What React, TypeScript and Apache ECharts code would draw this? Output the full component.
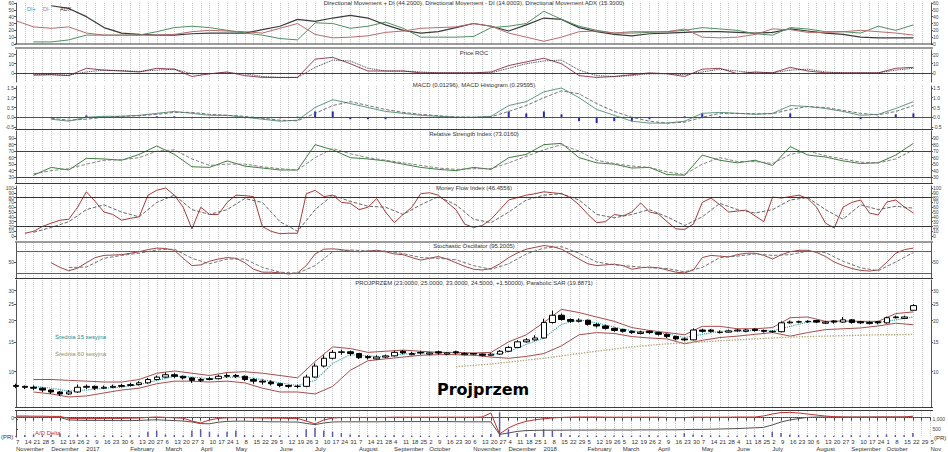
import React, { useEffect, useRef } from "react";
import * as echarts from "echarts";

// ---------- axis / calendar ----------
const START_UTC = Date.UTC(2016, 10, 7); // week 0 = Monday 7 Nov 2016
const DAY_MS = 86400000;
const WEEK_MAX = 104;
const MONTHS = ["January", "February", "March", "April", "May", "June", "July", "August", "September", "October", "November", "December"];

const PANEL_TITLES = [
  "Directional Movement + DI (44.2000), Directional Movement - DI (14.0003), Directional Movement ADX (15.3000)",
  "Price ROC",
  "MACD (0.01296), MACD Histogram (0.29595)",
  "Relative Strength Index (73.0160)",
  "Money Flow Index (46.4556)",
  "Stochastic Oscillator (95.2005)",
  "PROJPRZEM (23.0000, 25.0000, 23.0000, 24.5000, +1.50000), Parabolic SAR (19.8871)",
];
const TITLE_TOPS = [0, 49.5, 82, 131, 185, 243, 279.5];

const PRICE_TICKS = [10, 15, 20, 25, 30];
const RSI_TICKS = [30, 40, 50, 60, 70, 80, 90];
const MFI_TICKS = [0, 10, 20, 30, 40, 50, 60, 70, 80, 90, 100];
const ROC_TICKS = [0, 10, 20];
const MACD_TICKS = [-0.5, 0, 0.5, 1, 1.5];
const STOCH_TICKS = [50];
const VOL_TICKS = [500, 1000];

// ---------- weekly price data (index = week) ----------
const OPEN = [8.3,8.2,8.1,8.0,7.8,7.6,7.4,7.6,8.1,8.2, 8.0,8.1,8.2,8.3,8.4,8.6,9.0,9.3,9.6,9.4, 9.2,8.9,9.0,9.1,9.4,9.5,9.4,9.0,8.8,8.7, 8.5,8.3,8.2,8.2,9.3,10.8,12.0,13.0,13.1,12.8, 12.3,11.9,12.2,12.4,13.2,12.6,13.0,12.7,13.1,12.7, 13.1,12.6,12.8,12.7,12.5,12.7,13.2,13.9,15.0,15.4, 15.8,19.5,21.5,20.3,19.8,20.1,19.0,18.6,18.0,17.7, 17.3,16.8,17.3,17.0,16.6,16.1,15.6,15.4,17.6,17.6, 17.0,17.1,17.4,17.3,17.8,17.5,17.3,17.2,19.4,19.6, 19.7,20.0,19.3,19.9,19.6,20.2,19.7,19.2,19.7,19.4, 20.8,20.6,23.0];
const CLOSE = [8.2,8.1,8.0,7.8,7.6,7.4,7.6,8.1,8.2,8.0, 8.1,8.2,8.3,8.4,8.6,9.0,9.3,9.6,9.4,9.2, 8.9,9.0,9.1,9.4,9.5,9.4,9.0,8.8,8.7,8.5, 8.3,8.2,8.2,9.3,10.8,12.0,13.0,13.1,12.8,12.1, 12.1,12.2,12.4,13.0,12.9,12.8,12.9,12.9,12.9,12.9, 12.9,12.8,12.7,12.5,12.7,13.2,13.9,15.0,15.4,15.8, 19.5,21.5,20.3,19.8,20.1,19.0,18.6,18.0,17.5,17.3, 17.0,17.1,17.0,16.6,16.1,15.6,15.4,17.6,17.3,17.3, 17.1,17.4,17.6,17.6,17.5,17.3,17.2,19.4,19.6,19.7, 19.8,19.6,19.6,19.6,20.2,19.5,19.4,19.5,19.4,20.8, 21.0,21.0,24.5];
const LOW = [8.0,7.9,7.8,7.6,7.4,7.2,7.3,7.5,7.9,7.8, 7.9,8.0,8.1,8.2,8.3,8.5,8.9,9.2,9.2,9.0, 8.6,8.7,8.9,9.0,9.2,9.2,8.8,8.5,8.4,8.3, 8.1,8.0,8.0,8.1,9.2,10.6,11.8,12.6,12.4,11.9, 11.8,11.8,12.0,12.3,12.7,12.5,12.6,12.5,12.6,12.5, 12.6,12.5,12.5,12.3,12.4,12.6,13.1,13.8,14.8,15.2, 15.7,19.2,20.0,19.4,19.5,18.7,18.2,17.7,17.2,17.0, 16.7,16.6,16.7,16.3,15.8,15.3,15.1,15.3,17.0,17.0, 16.8,17.0,17.2,17.1,17.2,17.0,16.9,17.1,19.2,19.3, 19.4,19.3,19.1,19.2,19.4,19.2,19.1,19.0,19.0,19.2, 20.6,20.4,23.0];
const HIGH = [8.5,8.3,8.3,8.1,7.9,7.7,7.8,8.4,8.4,8.3, 8.3,8.4,8.5,8.6,8.8,9.2,9.5,9.9,9.8,9.5, 9.3,9.2,9.3,9.6,9.8,9.7,9.5,9.2,9.0,8.9, 8.6,8.4,8.4,9.6,11.2,12.5,13.4,13.5,13.3,12.9, 12.5,12.5,12.6,13.3,13.4,13.1,13.2,13.0,13.3,13.0, 13.3,13.0,12.9,12.8,12.9,13.4,14.2,15.3,15.8,16.4, 20.5,22.9,22.0,20.6,20.6,20.3,19.3,18.9,18.2,17.9, 17.5,17.4,17.5,17.1,16.8,16.3,15.9,18.0,17.9,17.8, 17.5,17.7,17.9,17.9,18.0,17.7,17.5,19.8,20.0,20.0, 20.1,20.2,19.9,20.1,21.0,20.4,19.9,19.8,19.9,21.1, 21.4,21.4,25.0];

// ---------- weekly indicator data ----------
const MFI = [null,6,10,20,27,33,35,60,92,72, 50,45,33,37,40,85,95,100,85,60, 15,60,45,45,70,85,84,82,20,10, 5,6,6,88,95,82,85,70,68,55, 60,78,50,28,45,60,88,90,85,70, 55,25,18,22,35,55,75,80,85,88, 92,90,88,80,65,45,28,30,45,42, 50,69,50,46,30,15,14,25,70,79, 65,50,52,54,42,30,81,79,82,85, 78,60,27,17,60,70,75,48,44,71, 75,60,48];
const STOCH_K = [null,null,null,null,48,35,26,33,48,62, 68,69,70,74,78,84,88,87,82,60, 40,42,52,58,62,60,48,30,22,22, 20,17,20,40,72,85,86,84,80,78, 80,82,78,72,70,62,55,60,65,58, 48,38,30,28,32,45,62,75,85,90, 95,92,85,72,58,45,40,42,44,40, 30,34,36,34,28,22,20,28,62,68, 66,64,70,74,74,68,58,70,78,82, 82,76,65,50,40,32,27,25,28,50, 74,84,88];
const AD_LINE = [1100,1100,1090,1090,1080,1080, 950,940,930,930,930,920,920,920,930, 950,960,940,920,900, 850,770,760, 840,880,890,890,880,870,860,860,850,850, 780,720,800, 850,860,860,860,860,860,865,870,870,870,870,870,870,870,865,860,860,860,860, 230,300,380,420,430,440,440,440, 445,445,445,450,450,450,450,450,455,455,455,460,460,470,480,480,490,500,510,520,540,560,580, 700,850,950,1020,1080,1100, 1100,1100,1100,1100,1100,1100,1100,1100,1100,1100,1110];
const AD_DELTA = [1150,1150,1140,1140,1130,1130, 1030,1020,1020,1020,1030,1030,1030,1040,1050, 1080,1100,1080,1060,1040, 900,800,950, 1030,1060,1070,1070,1060,1050,1040,1040,1030,1030, 900,760,950, 1050,1070,1080,1080,1080,1080,1080,1090,1090,1090,1090,1090,1090,1090,1090,1090,1090,1100,1300, 250,550,750,880,960,1010,1050,1080, 1090,1100,1100,1100,1090,1090,1090,1090,1090,1090,1090,1080,1070,1070,1090,1090,1090,1090,1090,1100,1100,1100,1150, 1250,1320,1330,1300,1250,1200, 1150,1120,1100,1090,1090,1090,1100,1100,1100,1100,1140];
const VOLUME = [5,8,10,6,8,12,6,10,8,5,6,6,4,8,6, 20,25,10,8,6, 25,30,20,10, 20,25,8,6, 6,8,6,5,8, 30,35,25,20, 15,10,8,6,6,5,8,6,5,5,4,5,4,6,5,6,8, 12,95,30,15,12,15,30,25,15, 8,6,6,5,5,6,5,5,6,8,6,5,6,15,10,8,6,6,5,5,6,8,8,20,15,10,8,6,6,6,5,6,8,6,6,8,10,8,8,15];

// ---------- two-weekly indicator data (index*2 = week) ----------
const ADX = [null,null,56,52,40,24,16,14,13,13, 15,16,16,16,21,26,36,33,38,42, 38,28,20,16,18,24,30,26,19,28, 38,36,24,18,14,12,15,16,17,18, 18,17,16,17,22,19,16,14,10,9, 9,9];
const DI_PLUS = [null,3,3,6,13,13,13,13,18,24, 26,24,20,16,13,8,6,31,30,23, 26,32,23,10,10,10,11,24,26,30, 48,36,26,20,16,16,17,18,20,24, 22,20,15,13,24,22,18,18,16,26, 20,28];
const DI_MINUS = [34,25,23,25,16,13,13,13,13,14, 18,20,19,18,16,23,30,14,9,10, 12,17,19,23,24,25,30,26,16,10, 4,10,18,19,16,18,18,18,22,10, 9,10,14,22,21,17,17,18,20,18, 16,13];
const ROC = [null,-2.5,-2,-3,5,3,2,1,5,4, -4,-1,1,-3,-5,-5,-5,15,17,10, 2,2,2,0,0,0,0,1,8,12, 16,10,-3,-5,-4,-2,0,-1,-4,4, 5,-1,1,0,6,2,0,0,0,0, 5,6];
const ROC_SIGNAL = [null,-2,-2,-2.5,1,3,2.5,1.5,3,4, -1,-1,0,-1,-4,-5,-5,6,14,13, 5,2,2,1,0,0,0,0,5,10, 13,14,3,-3,-4,-3,-1,-1,-2,1, 4,2,0,0,3,4,1,0,0,0, 3,5];
const MACD = [null,null,-0.1,-0.2,0,0.05,0.05,0.1,0.2,0.3, 0.2,0.1,0.1,0,-0.1,-0.2,-0.15,0.5,0.9,0.7, 0.5,0.3,0.2,0.1,0.05,0,0,0.05,0.6,0.8, 1.3,1.5,1.0,0.4,0.1,-0.2,-0.3,-0.3,-0.2,0.2, 0.25,0.2,0.15,0.2,0.6,0.55,0.45,0.3,0.1,0.15, 0.45,0.8];
const MACD_SIGNAL = [null,null,-0.05,-0.15,-0.1,0,0.05,0.08,0.15,0.25, 0.25,0.15,0.1,0.05,-0.05,-0.15,-0.18,0.2,0.6,0.8, 0.6,0.4,0.25,0.15,0.08,0.02,0,0.02,0.3,0.6, 1.0,1.35,1.2,0.7,0.3,0,-0.2,-0.3,-0.25,0, 0.2,0.2,0.18,0.18,0.4,0.55,0.5,0.35,0.2,0.12, 0.3,0.6];
const MACD_HIST = [null,null,-0.05,-0.05,0.1,0.05,0,0.02,0.05,0.05, -0.05,-0.05,0,-0.05,-0.05,-0.05,0.03,0.3,0.3,-0.1, -0.1,-0.1,-0.05,-0.05,-0.03,-0.02,0,0.03,0.3,0.2, 0.3,0.15,-0.2,-0.3,-0.2,-0.2,-0.1,0,0.05,0.2, 0.05,0,-0.03,0.02,0.2,0,-0.05,-0.05,-0.1,0.03, 0.15,0.2];
const RSI = [null,33,45,41,59,58,56,65,78,65, 46,45,55,47,44,41,41,80,72,60, 58,55,50,45,42,40,45,42,60,65, 80,82,60,52,50,44,45,34,33,64, 56,52,56,48,77,64,61,55,51,52, 64,82];
const RSI_MA = [null,35,40,43,50,56,57,60,70,72, 58,48,50,50,46,43,41,60,74,66, 60,56,52,48,44,42,43,43,52,62, 72,80,70,56,51,47,45,38,34,50, 60,54,54,51,65,70,63,58,53,52, 58,72];
const MFI_MA = [null,8,18,30,55,65,50,40,70,85, 55,45,55,78,70,30,10,55,85,72, 62,60,45,65,82,65,35,28,50,75, 85,88,75,45,38,45,55,40,22,40, 68,55,48,55,75,80,55,35,65,55, 62,58];
const STOCH_D = [null,null,null,35,36,60,68,74,83,85, 60,45,58,58,35,22,19,40,78,83, 80,80,73,62,60,56,40,30,45,72, 88,92,74,50,42,38,34,32,23,35, 62,66,72,68,70,80,76,52,34,26, 50,76];
const BAND_UPPER = [null,9.0,9.0,8.9,8.8,8.7,8.7,9.0,9.8,10.1, 9.8,9.5,9.9,10.0,9.8,9.5,9.2,11.5,14.0,13.7, 13.0,13.2,13.4,13.2,13.0,13.0,12.9,13.0,15.0,16.5, 19.5,23.3,22.3,21.0,19.8,18.2,17.5,17.0,16.5,18.5, 18.5,17.9,17.9,18.2,20.8,21.0,19.8,19.9,19.8,19.8, 22.0,22.5];
const BAND_LOWER = [null,7.6,7.4,7.1,7.2,7.5,7.8,8.0,8.5,8.8, 8.8,8.7,8.8,8.6,8.0,7.6,7.6,7.4,8.2,10.2, 11.6,11.9,12.2,12.5,12.6,12.6,12.5,12.2,12.0,12.3, 12.8,14.2,16.5,17.0,16.8,16.1,15.8,15.6,14.6,15.3, 15.9,16.2,16.6,17.0,16.2,17.0,17.7,17.9,18.1,18.6, 19.3,18.9];
const MA15 = [null,8.2,8.0,7.7,7.8,8.0,8.1,8.4,8.9,9.4, 9.3,9.1,9.3,9.3,9.0,8.6,8.3,8.9,11.2,12.6, 12.4,12.2,12.7,12.9,12.9,12.9,12.8,12.6,13.1,14.5, 15.8,19.0,20.2,19.4,18.3,17.4,17.1,16.7,15.9,16.6, 17.3,17.3,17.5,17.4,18.5,19.6,19.7,19.7,19.7,19.5, 20.2,21.0];
const MA60_START_WEEK = 50;
const MA60 = [10.7,10.9,11.1,11.4,11.7,12.0,12.4,12.8,13.2,13.6,14.0,14.3,14.6,14.8,15.0,15.2,15.4,15.6,15.8,16.0,16.1,16.2,16.3,16.4,16.5,16.5,16.6];

// ---------- helpers ----------
const FONT = "'Liberation Sans', Arial, sans-serif";
const LEVEL_COLOR = "#3c3c6c";
const weekly = (arr: (number | null)[]) => arr.map((v, i) => [i, v]).filter((p) => p[1] !== null);
const biweekly = (arr: (number | null)[], start = 0) => arr.map((v, i) => [start + i * 2, v]).filter((p) => p[1] !== null);

const weekDate = (w: number) => new Date(START_UTC + Math.round(w) * 7 * DAY_MS);

const GRIDS = [
  { top: 3, height: 41 },
  { top: 50, height: 32 },
  { top: 86, height: 43 },
  { top: 131, height: 52 },
  { top: 186, height: 54 },
  { top: 243, height: 35 },
  { top: 280, height: 127 },
  { top: 411, height: 30 },
];

function yAx(grid: number, min: number, max: number, position: string, ticks: number[] | null, fmt?: (v: number) => string, extra: any = {}) {
  const lab: any = { show: true, fontSize: 5, color: "#444", margin: 2, fontFamily: FONT };
  const tick: any = { show: true, length: 2, lineStyle: { color: "#555" } };
  if (ticks) { lab.customValues = ticks; tick.customValues = ticks; }
  if (fmt) lab.formatter = fmt;
  return {
    type: "value", gridIndex: grid, min, max, position,
    axisLine: { show: true, lineStyle: { color: "#555", width: 1 } },
    axisTick: tick, axisLabel: lab, splitLine: { show: false },
    ...extra,
  };
}

function line(xi: number, yi: number, data: any[], color: string, type = "solid", width = 1, extra: any = {}) {
  return {
    type: "line", xAxisIndex: xi, yAxisIndex: yi, data, showSymbol: false, symbol: "none", silent: true,
    lineStyle: { color, width, type }, z: 3, ...extra,
  };
}

function levels(values: number[], color = LEVEL_COLOR, type = "solid", width = 1.2) {
  return {
    markLine: {
      silent: true, symbol: "none", label: { show: false },
      lineStyle: { color, type, width }, data: values.map((v) => ({ yAxis: v })),
    },
  };
}

function buildOption() {
  const lnMin = Math.log(6.2);
  const lnMax = Math.log(34.67);
  const lnFmt = (v: number) => String(Math.round(Math.exp(v)));
  const macdFmt = (v: number) => v.toFixed(1);

  const xAxes: any[] = GRIDS.map((_, i) => ({
    type: "value", gridIndex: i, min: 0, max: WEEK_MAX, interval: 1,
    axisLine: { show: i === 7, lineStyle: { color: "#444" } },
    axisTick: { show: i === 7, length: 3, lineStyle: { color: "#444" } },
    axisLabel: i === 7
      ? {
          show: true, fontSize: 6, color: "#333", margin: 2, align: "left", fontFamily: FONT,
          formatter: (v: number) => String(weekDate(v).getUTCDate()),
        }
      : { show: false },
    splitLine: { show: true, lineStyle: { color: "#c9c9c9", type: "dotted", width: 1 } },
  }));
  xAxes.push({
    type: "value", gridIndex: 7, min: 0, max: WEEK_MAX, interval: 1, position: "bottom", offset: 7,
    axisLine: { show: false }, axisTick: { show: false }, splitLine: { show: false },
    axisLabel: {
      show: true, fontSize: 6, color: "#333", margin: 2, align: "left", fontFamily: FONT,
      formatter: (v: number) => {
        const d = weekDate(v);
        if (d.getUTCDate() > 7) return "";
        const m = d.getUTCMonth();
        if (v === WEEK_MAX) return "Nov";
        return m === 0 ? String(d.getUTCFullYear()) : MONTHS[m];
      },
    },
  });

  const yAxes: any[] = [
    yAx(0, 0, 60, "left", null, undefined, { interval: 10 }),
    yAx(0, 0, 60, "right", null, undefined, { interval: 10 }),
    yAx(1, -10, 25, "left", ROC_TICKS),
    yAx(1, -10, 25, "right", ROC_TICKS),
    yAx(2, -0.6, 1.6, "left", MACD_TICKS, macdFmt),
    yAx(2, -0.6, 1.6, "right", MACD_TICKS, macdFmt),
    yAx(3, 21, 101, "left", RSI_TICKS),
    yAx(3, 21, 101, "right", RSI_TICKS),
    yAx(4, -8, 104, "left", MFI_TICKS),
    yAx(4, -8, 104, "right", MFI_TICKS),
    yAx(5, 6, 102, "left", STOCH_TICKS),
    yAx(5, 6, 102, "right", STOCH_TICKS),
    { type: "log", gridIndex: 6, min: 6.2, max: 34.67, show: false, splitLine: { show: false } },
    yAx(6, lnMin, lnMax, "left", PRICE_TICKS.map(Math.log), lnFmt),
    yAx(6, lnMin, lnMax, "right", PRICE_TICKS.map(Math.log), lnFmt),
    yAx(7, -23, 8, "left", [0]),
    yAx(7, 100, 1400, "right", VOL_TICKS),
    { type: "value", gridIndex: 7, min: 0, max: 100, show: false, splitLine: { show: false } },
  ];

  const candles = CLOSE.map((c, i) => [i, OPEN[i], c, LOW[i], HIGH[i]]);

  const series: any[] = [
    // DMI
    line(0, 0, biweekly(ADX), "#3a3a3a", "solid", 1.2),
    line(0, 0, biweekly(DI_PLUS), "#4f8f60", "solid", 1),
    line(0, 0, biweekly(DI_MINUS), "#b86a6a", "solid", 1),
    // ROC
    line(1, 2, biweekly(ROC), "#8a2f45", "solid", 0.9, levels([0], "#35357a", "solid", 1.1)),
    line(1, 2, biweekly(ROC_SIGNAL), "#222", "dotted", 0.9),
    // MACD
    {
      type: "bar", xAxisIndex: 2, yAxisIndex: 4, data: biweekly(MACD_HIST), barWidth: 2, silent: true,
      itemStyle: { color: "#2b2ba8" }, z: 2,
    },
    line(2, 4, biweekly(MACD), "#5f9a80", "solid", 1, levels([0], "#3050a8", "solid", 1.1)),
    line(2, 4, biweekly(MACD_SIGNAL), "#666", "dashed", 0.9),
    // RSI
    line(3, 6, biweekly(RSI), "#3f7f3f", "solid", 1, levels([70, 30])),
    line(3, 6, biweekly(RSI_MA), "#777", "dashed", 0.9),
    // MFI
    line(4, 8, weekly(MFI), "#a83a3a", "solid", 1, levels([80, 20], "#333")),
    line(4, 8, biweekly(MFI_MA), "#555", "dashed", 0.9),
    // Stochastic
    line(5, 10, weekly(STOCH_K), "#a04848", "solid", 1, levels([80, 20], "#5656a8")),
    line(5, 10, biweekly(STOCH_D), "#666", "dashed", 0.9),
    // Price
    line(6, 12, biweekly(BAND_UPPER), "#a84c4c", "solid", 1),
    line(6, 12, biweekly(BAND_LOWER), "#a84c4c", "solid", 1),
    line(6, 12, biweekly(MA15), "#2a9a9a", "dotted", 1.1),
    line(6, 12, biweekly(MA60, MA60_START_WEEK), "#b8a878", "dotted", 1.4),
    {
      type: "candlestick", xAxisIndex: 6, yAxisIndex: 12, data: candles, barWidth: 6, silent: true,
      encode: { x: 0, y: [1, 2, 3, 4] },
      itemStyle: { color: "#ffffff", color0: "#000000", borderColor: "#000000", borderColor0: "#000000", borderWidth: 1 },
      z: 4,
    },
    // bottom panel
    {
      type: "bar", xAxisIndex: 7, yAxisIndex: 17, data: weekly(VOLUME), barWidth: 1.5, silent: true,
      itemStyle: { color: "#5a5ab0" }, z: 2,
    },
    line(7, 16, weekly(AD_LINE), "#505050", "solid", 1),
    line(7, 16, weekly(AD_DELTA), "#c03030", "solid", 1, levels([1100], "#d04040", "dotted", 1)),
  ];

  const titles = PANEL_TITLES.map((t, i) => ({
    text: t, left: "center", top: TITLE_TOPS[i], padding: 0,
    textStyle: { fontSize: 6, fontWeight: "normal", color: "#333", fontFamily: FONT },
  }));

  const sepYs = [44, 48, 129.5, 183.5, 242, 278.5, 407.5, 410.5];
  const graphic: any[] = sepYs.map((y) => ({
    type: "line", silent: true, shape: { x1: 15, y1: y, x2: 933, y2: y },
    style: { stroke: "#3a3a3a", lineWidth: 1.1 }, z: 10,
  }));
  const txt = (text: string, x: number, y: number, fill: string, size = 6, extra: any = {}) => ({
    type: "text", x, y, silent: true, z: 11,
    style: { text, fill, fontSize: size, fontFamily: FONT, ...extra },
  });
  graphic.push(
    txt("DI+", 27, 6, "#4f8f8f", 5.5),
    txt("DI-", 43, 6, "#c07070", 5.5),
    txt("ADX", 60, 6, "#333", 5.5),
    txt("Średnia 15 sesyjna", 55, 334, "#2a8a8a", 6),
    txt("Średnia 60 sesyjna", 55, 351, "#a09050", 6),
    txt("A/D Delta", 35, 430, "#c03030", 6),
    txt("(PR)", 1, 434, "#333", 6),
    txt("(PR)", 934, 435, "#333", 6),
    txt("Projprzem", 437, 381, "#000", 16, { fontWeight: "bold", fontFamily: "'DejaVu Sans', Verdana, sans-serif" }),
  );

  return {
    animation: false,
    backgroundColor: "#ffffff",
    textStyle: { fontFamily: FONT },
    title: titles,
    grid: GRIDS.map((g) => ({ ...g, left: 16, right: 17, show: false })),
    xAxis: xAxes,
    yAxis: yAxes,
    series,
    graphic,
  };
}

export default function App() {
  const ref = useRef<HTMLDivElement>(null);
  useEffect(() => {
    if (!ref.current) return;
    const chart = echarts.init(ref.current, null, { renderer: "svg" });
    chart.setOption(buildOption() as any);
    return () => chart.dispose();
  }, []);
  return (
    <div
      ref={ref}
      style={{ position: "fixed", left: 0, top: 0, width: 948, height: 452, background: "#fff" }}
    />
  );
}
